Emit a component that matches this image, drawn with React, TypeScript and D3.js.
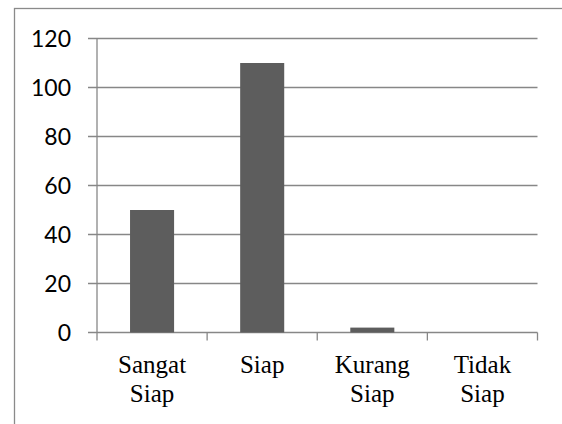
import * as d3 from 'd3';

const categories = [['Sangat', 'Siap'], ['Siap'], ['Kurang', 'Siap'], ['Tidak', 'Siap']];
const values = [50, 110, 2, 0];
const yTicks = [0, 20, 40, 60, 80, 100, 120];

const width = 562;
const height = 424;
const margin = { top: 38.5, right: 24.5, bottom: 91.5, left: 97 };

export default function App() {
  const innerWidth = width - margin.left - margin.right;
  const innerHeight = height - margin.top - margin.bottom;

  const keys = categories.map((c) => c.join(' '));

  const x = d3
    .scaleBand()
    .domain(keys)
    .range([0, innerWidth])
    .paddingInner(0.6)
    .paddingOuter(0.3);

  const y = d3.scaleLinear().domain([0, 120]).range([innerHeight, 0]);

  const step = x.step();
  const gridColor = '#878787';

  return (
    <svg
      width={width}
      height={height}
      style={{ position: 'absolute', left: 0, top: 0, display: 'block', background: '#fff' }}
    >
      <rect x={14.5} y={8.5} width={width} height={height} fill="none" stroke="#8a8a8a" strokeWidth={1.3} />
      <g transform={`translate(${margin.left},${margin.top})`}>
        {yTicks.map((t) => (
          <g key={t}>
            <line x1={-9} x2={innerWidth} y1={y(t)} y2={y(t)} stroke={gridColor} strokeWidth={1.3} />
            <text x={-26} y={y(t) + 8} textAnchor="end" fontSize={23} fill="#000" style={{ fontFamily: 'Lato' }}>
              {t}
            </text>
          </g>
        ))}
        <line x1={0} x2={0} y1={0} y2={innerHeight} stroke={gridColor} strokeWidth={1.3} />
        {/* category tick marks on the band boundaries */}
        {d3.range(keys.length + 1).map((i) => (
          <line
            key={i}
            x1={i * step}
            x2={i * step}
            y1={innerHeight}
            y2={innerHeight + 8}
            stroke={gridColor}
            strokeWidth={1.3}
          />
        ))}
        {keys.map((k, i) => (
          <rect
            key={k}
            x={x(k)}
            y={y(values[i])}
            width={x.bandwidth()}
            height={innerHeight - y(values[i])}
            fill="#5d5d5d"
          />
        ))}
        {categories.map((lines, i) =>
          lines.map((l, j) => (
            <text
              key={keys[i] + j}
              x={(x(keys[i]) || 0) + x.bandwidth() / 2}
              y={innerHeight + 40 + j * 29}
              textAnchor="middle"
              fontSize={25}
              fill="#000"
              style={{ fontFamily: 'Liberation Serif' }}
            >
              {l}
            </text>
          ))
        )}
      </g>
    </svg>
  );
}
